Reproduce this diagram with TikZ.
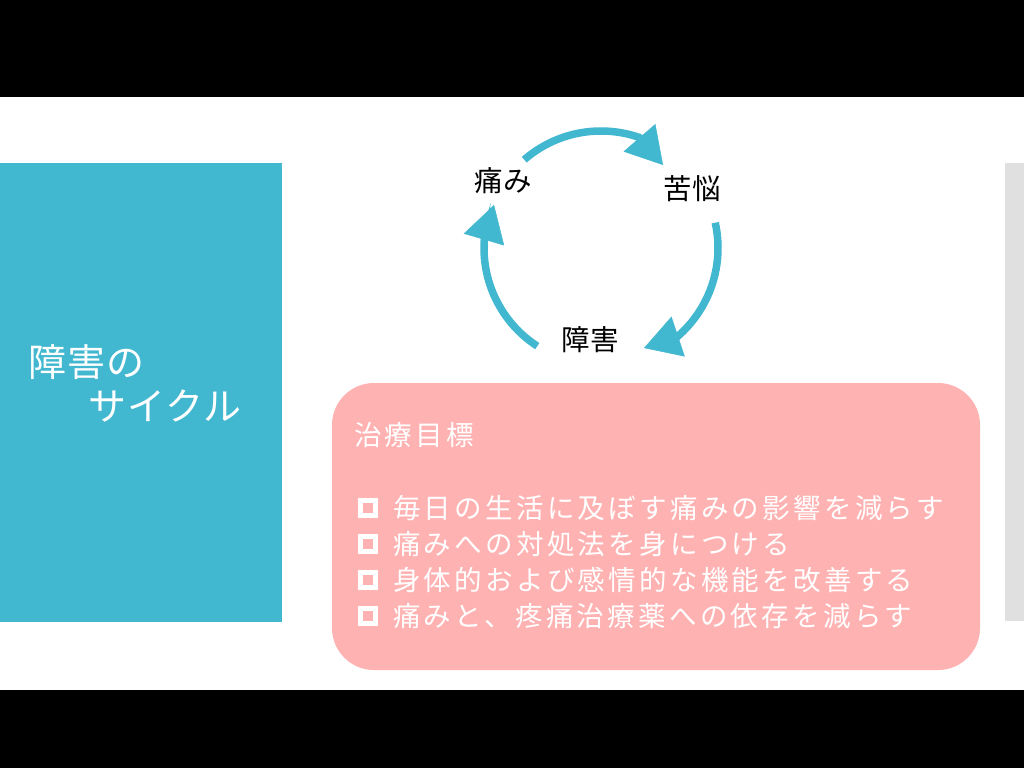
\documentclass[tikz,border=0pt]{standalone}
\usepackage{fontspec}
\setmainfont{Noto Sans CJK JP}
\newfontfamily\jpbox[LetterSpace=12]{Noto Sans CJK JP}
\newfontfamily\jptitle[LetterSpace=2.5]{Noto Sans CJK JP}
\newfontfamily\jplabel[LetterSpace=2]{Noto Sans CJK JP}
\usetikzlibrary{arrows.meta}
\definecolor{cycblue}{RGB}{66,184,208}
\definecolor{goalpink}{RGB}{255,178,178}
\definecolor{bargray}{RGB}{224,224,224}
\begin{document}
\begin{tikzpicture}[x=1pt,y=-1pt,
  cyc/.style={draw=cycblue,line width=7.5pt,-{Triangle[length=36pt,width=42pt,line width=0.5pt]}},
  lbl/.style={inner sep=0pt,font=\jplabel\fontsize{28.5}{34}\selectfont,text=black},
  ttl/.style={inner sep=0pt,anchor=west,font=\jptitle\fontsize{38}{44}\selectfont,text=white},
  itm/.style={inner sep=0pt,anchor=west,font=\jpbox\fontsize{27.5}{32}\selectfont,text=white},
  chk/.style={draw=white,line width=5pt,minimum size=14.5pt,inner sep=0pt}]
\useasboundingbox (0,0) rectangle (1024,768);
% background bands
\fill[black] (0,0) rectangle (1024,768);
\fill[white] (0,97) rectangle (1024,690);
\fill[cycblue] (0,163) rectangle (282,622);
\fill[bargray] (1005,163) rectangle (1024,621);
\fill[goalpink,rounded corners=42pt] (332,383) rectangle (980,670);
% title
\node[ttl] (t1) at (28,362) {障害の};
\node[ttl] (t2) at (88,406) {サイクル};
% cycle
\coordinate (ctr) at (601,248);
\coordinate (tipA) at (663,165);
\coordinate (tipB) at (644,348);
\coordinate (tipC) at (494,205);
\node[lbl] (pain) at (503,181) {痛み};
\node[lbl] (distress) at (692,189) {苦悩};
\node[lbl] (disab) at (590,340) {障害};
\draw[cyc] ([shift={(-131:117)}]ctr) arc[start angle=-131,end angle=-71,radius=117] -- (tipA);
\draw[cyc] ([shift={(-12.5:117)}]ctr) arc[start angle=-12.5,end angle=49.5,radius=117] -- (tipB);
\draw[cyc] ([shift={(123:117)}]ctr) arc[start angle=123,end angle=185,radius=117] -- (tipC);
% goals
\node[itm] (goal) at (354,435) {治療目標};
\node[chk] (c1) at (368,508) {};
\node[chk] (c2) at (368,544) {};
\node[chk] (c3) at (368,580) {};
\node[chk] (c4) at (368,616) {};
\node[itm] (g1) at (393,508) {毎日の生活に及ぼす痛みの影響を減らす};
\node[itm] (g2) at (393,544) {痛みへの対処法を身につける};
\node[itm] (g3) at (393,580) {身体的および感情的な機能を改善する};
\node[itm] (g4) at (393,616) {痛みと、疼痛治療薬への依存を減らす};
\end{tikzpicture}
\end{document}
